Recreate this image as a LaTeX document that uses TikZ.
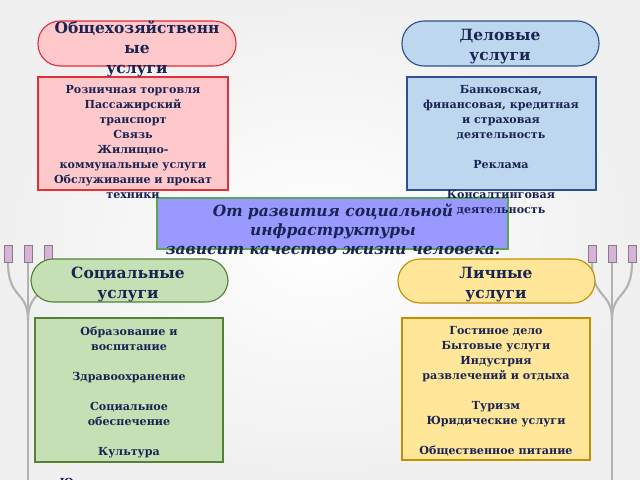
\documentclass[tikz,border=0pt]{standalone}
\usepackage{fontspec}
\setmainfont{DejaVu Serif}
\usetikzlibrary{positioning}
\definecolor{ink}{HTML}{1A2452}
\definecolor{pinkfill}{HTML}{FFC9CC}
\definecolor{pinkline}{HTML}{E0303A}
\definecolor{bluefill}{HTML}{BDD7EE}
\definecolor{blueline}{HTML}{2F4F8F}
\definecolor{greenfill}{HTML}{C5E0B4}
\definecolor{greenline}{HTML}{548235}
\definecolor{yellowfill}{HTML}{FFE699}
\definecolor{yellowline}{HTML}{BF9000}
\definecolor{violetfill}{HTML}{9999FF}
\begin{document}
\begin{tikzpicture}[x=0.025cm,y=-0.025cm]

\tikzset{pill/.style={draw, line width=0.8pt, rounded corners=0.55cm},
  box/.style={draw, line width=0.8pt},
  head/.style={text=ink, font=\bfseries\fontsize{11}{14.2}\selectfont, align=center, anchor=north},
  list/.style={text=ink, font=\bfseries\fontsize{7.9}{10.7}\selectfont, align=center, anchor=north},
  lamp/.style={draw=gray!60, line width=1.5pt}}

% background
\shade[inner color=white, outer color=gray!12] (0,0) rectangle (640,480);
\useasboundingbox (0,0) rectangle (640,480);

% lampposts
\foreach \lx in {28,612} {
  \draw[lamp] (\lx,250) -- (\lx,480);
  \draw[lamp] (\lx-20,262) .. controls (\lx-20,300) and (\lx,290) .. (\lx,320);
  \draw[lamp] (\lx+20,262) .. controls (\lx+20,300) and (\lx,290) .. (\lx,320);
  \foreach \dx in {-20,0,20} \fill[violet!30, draw=gray] (\lx+\dx-4,245) rectangle (\lx+\dx+4,262);
}

% boxes
\draw[pill, fill=pinkfill, draw=pinkline] (38,21) rectangle (236,66);
\draw[pill, fill=bluefill, draw=blueline] (402,21) rectangle (599,66);
\draw[box, fill=pinkfill, draw=pinkline] (38,77) rectangle (228,190);
\draw[box, fill=bluefill, draw=blueline] (407,77) rectangle (596,190);
\draw[box, fill=violetfill, draw=gray!70!green] (157,198) rectangle (508,249);
\draw[pill, fill=greenfill, draw=greenline] (31,259) rectangle (228,302);
\draw[pill, fill=yellowfill, draw=yellowline] (398,259) rectangle (595,303);
\draw[box, fill=greenfill, draw=greenline] (35,318) rectangle (223,462);
\draw[box, fill=yellowfill, draw=yellowline] (402,318) rectangle (590,460);

% texts
\node[head] (common) at (137,16) {Общехозяйственн\\ые\\услуги};
\node[head] (business) at (500,24) {Деловые\\услуги};
\node[list] (commonlist) at (133,80) {Розничная торговля\\Пассажирский\\транспорт\\Связь\\Жилищно-\\коммунальные услуги\\Обслуживание и прокат\\техники};
\node[list] (businesslist) at (501,80) {Банковская,\\финансовая, кредитная\\и страховая\\деятельность\\[10.7pt]Реклама\\[10.7pt]Консалтинговая\\деятельность};
\node[text=ink, font=\bfseries\itshape\fontsize{11}{13.5}\selectfont, align=center, anchor=north] (main) at (333,199) {От развития социальной\\инфраструктуры\\зависит качество жизни человека.};
\node[head] (social) at (128,262) {Социальные\\услуги};
\node[head] (personal) at (496,262) {Личные\\услуги};
\node[list] (sociallist) at (129,322) {Образование  и\\воспитание\\[10.7pt]Здравоохранение\\[10.7pt]Социальное\\обеспечение\\[10.7pt]Культура\\[10.7pt]Юридические услуги};
\node[list] (personallist) at (496,321) {Гостиное дело\\Бытовые услуги\\Индустрия\\развлечений и отдыха\\[10.7pt]Туризм\\Юридические услуги\\[10.7pt]Общественное питание};
\end{tikzpicture}
\end{document}
